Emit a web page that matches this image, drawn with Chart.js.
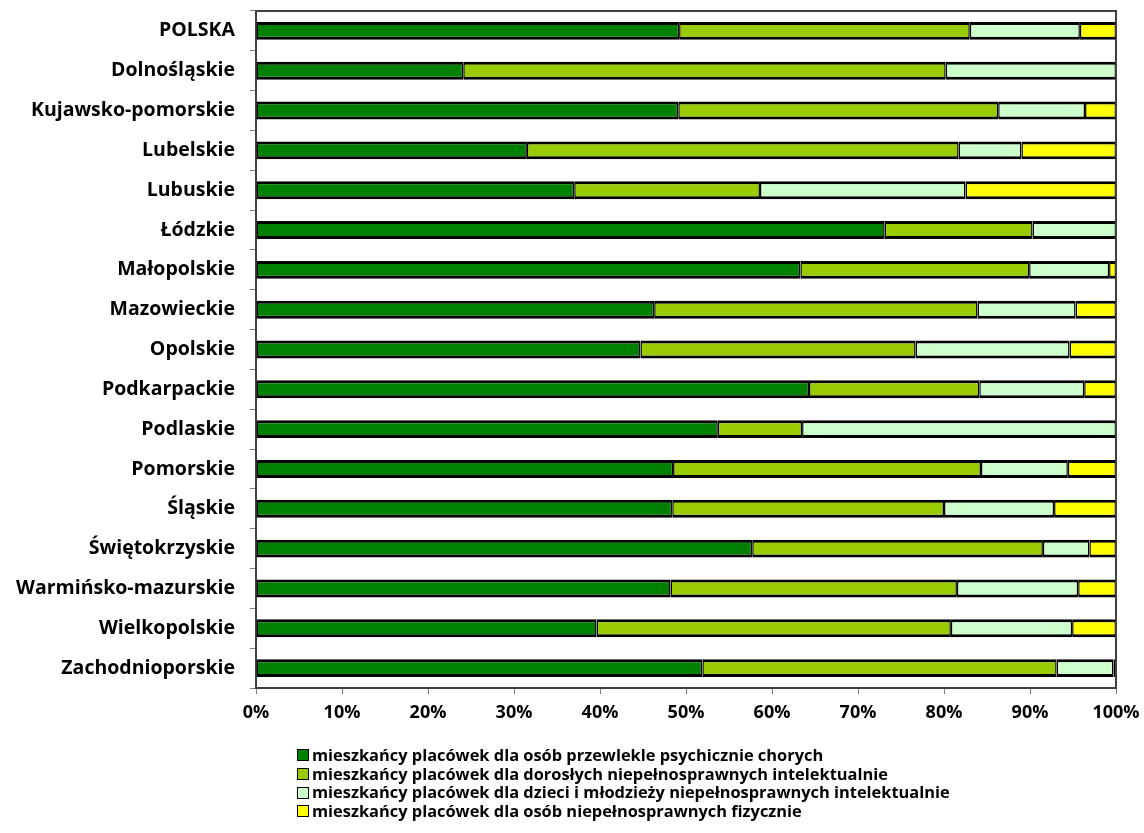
<!DOCTYPE html>
<html>
<head>
<meta charset="utf-8">
<script src="https://cdn.jsdelivr.net/npm/chart.js@4.4.1/dist/chart.umd.min.js"></script>
<style>
  html, body { margin: 0; padding: 0; background: #fff; }
  #wrap { position: relative; width: 1144px; height: 833px; }
  #legend { position: absolute; left: 297px; top: 746px; font-family: "Open Sans", sans-serif; font-weight: bold; font-size: 16.4px; color: #000; }
  .li { height: 18.7px; line-height: 18.7px; display: flex; align-items: center; white-space: nowrap; }
  .sw { width: 10px; height: 10px; border: 1.5px solid #000; margin-right: 3px; flex: none; }
</style>
</head>
<body>
<div id="wrap">
  <canvas id="c" width="1144" height="833"></canvas>
  <div id="legend"></div>
</div>
<script>
const categories = ["POLSKA","Dolnośląskie","Kujawsko-pomorskie","Lubelskie","Lubuskie","Łódzkie","Małopolskie","Mazowieckie","Opolskie","Podkarpackie","Podlaskie","Pomorskie","Śląskie","Świętokrzyskie","Warmińsko-mazurskie","Wielkopolskie","Zachodnioporskie"];
const seriesNames = [
  "mieszkańcy placówek dla osób przewlekle psychicznie chorych",
  "mieszkańcy placówek dla dorosłych niepełnosprawnych intelektualnie",
  "mieszkańcy placówek dla dzieci i młodzieży niepełnosprawnych intelektualnie",
  "mieszkańcy placówek dla osób niepełnosprawnych fizycznie"
];
const psychicznie = [49.2,24.1,49.1,31.5,37.0,73.1,63.3,46.3,44.7,64.3,53.7,48.5,48.4,57.7,48.2,39.6,51.9];
const dorosli     = [33.8,56.1,37.2,50.2,21.6,17.2,26.6,37.6,32.0,19.8, 9.8,35.8,31.6,33.8,33.3,41.2,41.2];
const dzieci      = [12.8,19.8,10.1, 7.3,23.9, 9.7, 9.3,11.4,17.9,12.2,36.5,10.1,12.8, 5.4,14.1,14.1, 6.6];
const fizycznie   = [ 4.2, 0.0, 3.6,11.0,17.5, 0.0, 0.8, 4.7, 5.4, 3.7, 0.0, 5.6, 7.2, 3.1, 4.4, 5.1, 0.3];
const xTicks = [0,10,20,30,40,50,60,70,80,90,100];

const colors = ["#008000","#99CC00","#CCFFCC","#FFFF00"];
const seriesValues = [psychicznie, dorosli, dzieci, fizycznie];

const FONT = "'Open Sans', sans-serif";

const datasets = seriesValues.map((vals, i) => ({
  label: seriesNames[i],
  data: vals,
  backgroundColor: colors[i],
  borderColor: "#000",
  borderWidth: {top: 3, bottom: 3, left: 1.5, right: 1.5},
  borderSkipped: false,
  barPercentage: 0.45,
  categoryPercentage: 1.0
}));

const frame = {
  id: "frame",
  afterDatasetsDraw(chart) {
    const a = chart.chartArea, ctx = chart.ctx;
    ctx.save();
    ctx.strokeStyle = "#404040";
    ctx.lineWidth = 2;
    ctx.beginPath();
    ctx.moveTo(a.left, a.top);
    ctx.lineTo(a.right, a.top);
    ctx.lineTo(a.right, a.bottom);
    ctx.stroke();
    ctx.restore();
  }
};

new Chart(document.getElementById("c"), {
  type: "bar",
  data: { labels: categories, datasets },
  options: {
    responsive: false,
    animation: false,
    indexAxis: "y",
    layout: { padding: { top: 11, right: 28, left: 0, bottom: 0 } },
    plugins: { legend: { display: false }, tooltip: { enabled: false } },
    scales: {
      x: {
        stacked: true, min: 0, max: 100,
        afterBuildTicks(scale) { scale.ticks = xTicks.map(v => ({ value: v })); },
        afterFit(scale) { scale.height = 145; scale.paddingLeft = 0; scale.paddingRight = 0; },
        ticks: { callback: v => v + "%", color: "#000", font: { family: FONT, size: 18, weight: "bold" }, padding: 8, maxRotation: 0 },
        grid: { drawOnChartArea: false, drawTicks: true, tickLength: 6, color: "#808080", lineWidth: 1 },
        border: { color: "#404040", width: 2 }
      },
      y: {
        stacked: true,
        afterFit(scale) { scale.width = 256; scale.paddingTop = 0; scale.paddingBottom = 0; },
        ticks: { color: "#000", font: { family: FONT, size: 19.5, weight: "bold" }, padding: 15 },
        grid: { drawOnChartArea: false, drawTicks: true, tickLength: 6, color: "#808080", lineWidth: 1, offset: true },
        border: { color: "#404040", width: 2 }
      }
    }
  },
  plugins: [frame]
});

const lg = document.getElementById("legend");
seriesNames.forEach((n, i) => {
  const row = document.createElement("div");
  row.className = "li";
  const sw = document.createElement("span");
  sw.className = "sw";
  sw.style.background = colors[i];
  const tx = document.createElement("span");
  tx.textContent = n;
  row.appendChild(sw); row.appendChild(tx);
  lg.appendChild(row);
});
</script>
</body>
</html>
